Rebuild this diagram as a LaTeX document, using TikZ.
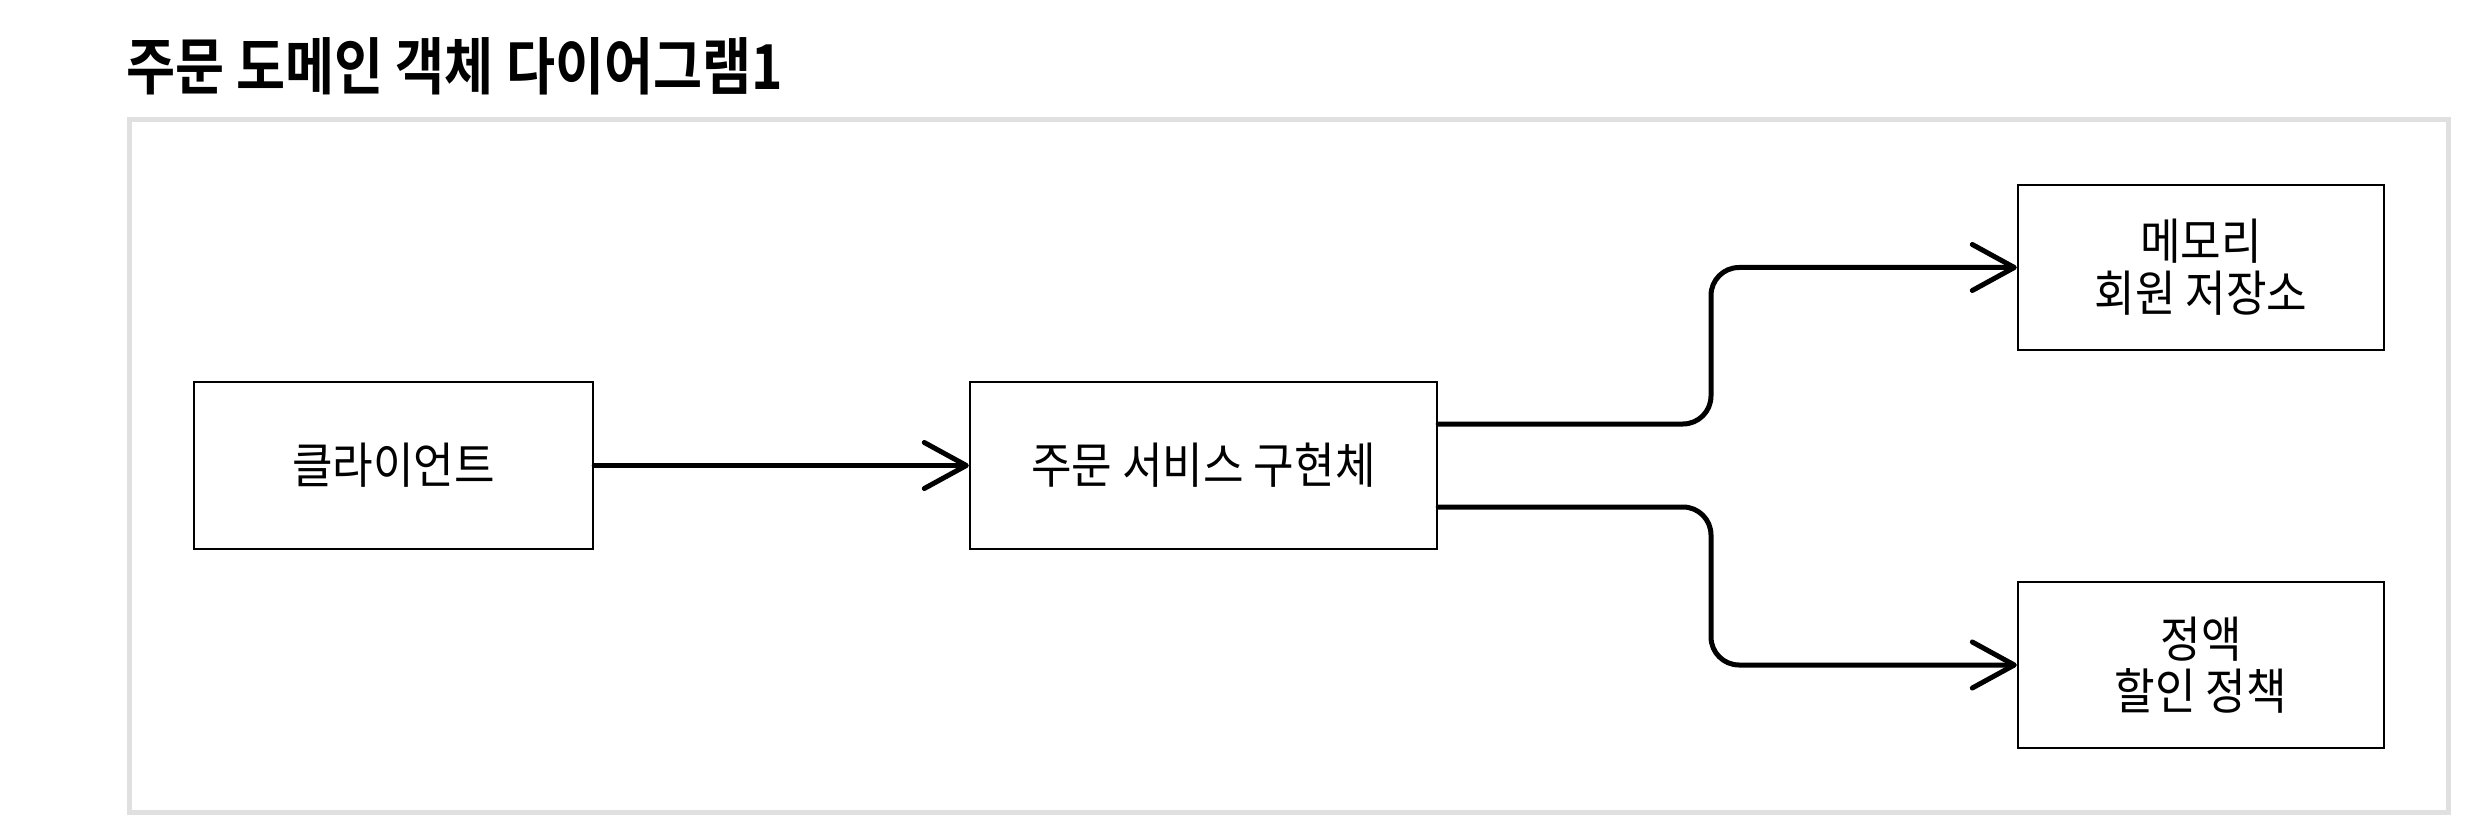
\documentclass[tikz,border=0pt]{standalone}
\usepackage{fontspec}
\usetikzlibrary{arrows.meta,calc}
\newfontfamily\kr[FakeStretch=0.9]{Noto Sans CJK KR}
\newfontfamily\krt[FakeStretch=0.86]{Noto Sans CJK KR Bold}
\definecolor{framegray}{HTML}{E0E0E0}
\tikzset{
  box/.style={draw=black, line width=1.2pt, fill=white, align=center, inner sep=0pt,
    font=\kr\fontsize{24.5}{26}\selectfont},
  conn/.style={line width=2.5pt, line cap=round, line join=round,
    -{Straight Barb[length=21pt,width=23pt,line cap=round,line join=round]}},
}
\begin{document}
\begin{tikzpicture}[x=0.5pt,y=-0.5pt]
\useasboundingbox (0,0) rectangle (2474,834);
\draw[framegray, line width=2.5pt] (129.5,119.5) rectangle (2448.5,812.5);
\node[anchor=west, inner sep=0pt, font=\krt\fontsize{31}{36}\selectfont] (title) at (126,66) {주문 도메인 객체 다이어그램1};
\node[box, minimum width=199.5pt, minimum height=83.5pt] (client) at (393.5,465.5) {클라이언트};
\node[box, minimum width=233.5pt, minimum height=83.5pt] (svc) at (1203.5,465.5) {주문 서비스 구현체};
\node[box, minimum width=183pt, minimum height=82.5pt] (mem) at (2201,267.5) {메모리\\회원 저장소};
\node[box, minimum width=183pt, minimum height=83pt] (disc) at (2201,665) {정액\\할인 정책};
\coordinate (midx) at (1711,0);
\coordinate (s1) at ([yshift=20.75pt]svc.east);
\coordinate (s2) at ([yshift=-20.75pt]svc.east);
\draw[conn] (client) -- (svc);
\draw[conn, rounded corners=14pt] (s1) -- (s1 -| midx) |- (mem.west);
\draw[conn, rounded corners=14pt] (s2) -- (s2 -| midx) |- (disc.west);
\end{tikzpicture}
\end{document}
